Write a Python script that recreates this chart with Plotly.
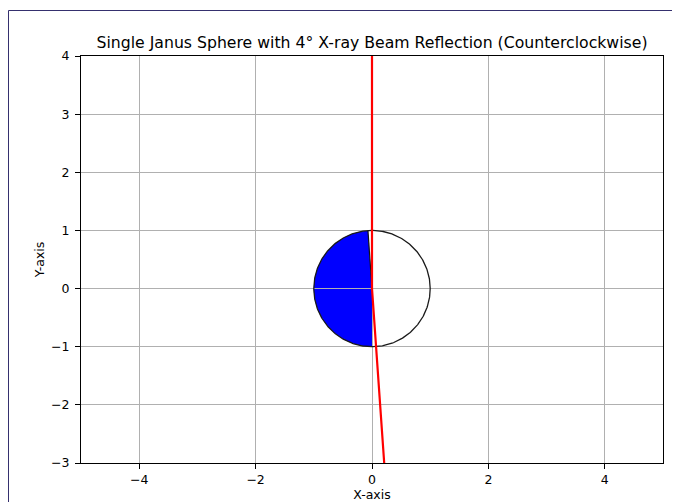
import numpy as np
import plotly.graph_objects as go

# --- data ---
beam_angle_deg = 4.0
sphere_radius = 1.0
sphere_center = (0.0, 0.0)
wedge_start_deg = 90.0 + beam_angle_deg
wedge_end_deg = 270.0
incident_top_y = 6.0
reflected_length = 6.0
x_ticks = [-4, -2, 0, 2, 4]
y_ticks = [-3, -2, -1, 0, 1, 2, 3, 4]
x_range = [-5, 5]
y_range = [-3, 4]
title_text = "Single Janus Sphere with 4° X-ray Beam Reflection (Counterclockwise)"
x_label = "X-axis"
y_label = "Y-axis"

cx, cy = sphere_center
theta_full = np.linspace(0, 2 * np.pi, 361)
circle_x = cx + sphere_radius * np.cos(theta_full)
circle_y = cy + sphere_radius * np.sin(theta_full)

wt = np.radians(np.linspace(wedge_start_deg, wedge_end_deg, 181))
wedge_x = np.concatenate([[cx], cx + sphere_radius * np.cos(wt)])
wedge_y = np.concatenate([[cy], cy + sphere_radius * np.sin(wt)])
wedge_path = "M " + " L ".join(f"{x:.5f} {y:.5f}" for x, y in zip(wedge_x, wedge_y)) + " Z"

edge_x = [cx, cx + sphere_radius * np.cos(np.radians(wedge_start_deg))]
edge_y = [cy, cy + sphere_radius * np.sin(np.radians(wedge_start_deg))]

a = np.radians(beam_angle_deg)
beam_x = [cx, cx, cx + reflected_length * np.sin(a)]
beam_y = [incident_top_y, cy, cy - reflected_length * np.cos(a)]

FONT = "DejaVu Sans"

# page body has an 8px default margin; figure is sized/positioned to compensate
OFF = 8
W, H = 680 - OFF, 502 - OFF
L, R, T, B = 81 - OFF, 680 - 663, 56 - OFF, 502 - 463
PW, PH = W - L - R, H - T - B

fig = go.Figure()
fig.add_trace(go.Scatter(x=circle_x, y=circle_y, mode="lines",
                         line=dict(color="#1a1a1a", width=1.3), hoverinfo="skip"))
fig.add_trace(go.Scatter(x=edge_x, y=edge_y, mode="lines",
                         line=dict(color="#111111", width=1.2), hoverinfo="skip"))
fig.add_trace(go.Scatter(x=beam_x, y=beam_y, mode="lines",
                         line=dict(color="#ff0000", width=2.2), hoverinfo="skip"))

fig.add_shape(type="path", path=wedge_path, xref="x", yref="y",
              fillcolor="#0000ff", line=dict(width=0), layer="below")

# outer frame lines (screenshot border)
frame_color = "#35306e"
fy = 1 + (T - (10.5 - OFF)) / PH
fx = (0.5 - L) / PW
fig.add_shape(type="line", xref="paper", yref="paper",
              x0=fx, x1=(W + 20 - L) / PW, y0=fy, y1=fy,
              line=dict(color=frame_color, width=1))
fig.add_shape(type="line", xref="paper", yref="paper",
              x0=fx, x1=fx, y0=fy, y1=-(B + 20) / PH,
              line=dict(color=frame_color, width=1))

axis_common = dict(
    showgrid=True, gridcolor="#b0b0b0", gridwidth=1,
    showline=True, linecolor="black", linewidth=1, mirror=True,
    ticks="outside", ticklen=5, tickwidth=1, tickcolor="black",
    zeroline=False, automargin=False,
    tickfont=dict(family=FONT, size=12.5, color="black"),
)

fig.update_layout(
    width=W, height=H,
    margin=dict(l=L, r=R, t=T, b=B),
    paper_bgcolor="white", plot_bgcolor="white",
    showlegend=False,
    title=dict(text=title_text, x=(372 - OFF) / W, xanchor="center", y=1 - (42.5 - OFF) / H, yanchor="middle",
               font=dict(family=FONT, size=15.7, color="black")),
    xaxis=dict(range=x_range, tickvals=x_ticks, ticktext=[str(v).replace("-", "−") for v in x_ticks],
               title=dict(text=x_label, font=dict(family=FONT, size=12.5, color="black")),
               ticklabelstandoff=0, **axis_common),
    yaxis=dict(range=y_range, tickvals=y_ticks, ticktext=[str(v).replace("-", "−") for v in y_ticks],
               title=dict(text=y_label, font=dict(family=FONT, size=12.5, color="black"), standoff=3),
               ticklabelstandoff=3, **axis_common),
)

fig.write_html("out.html")
